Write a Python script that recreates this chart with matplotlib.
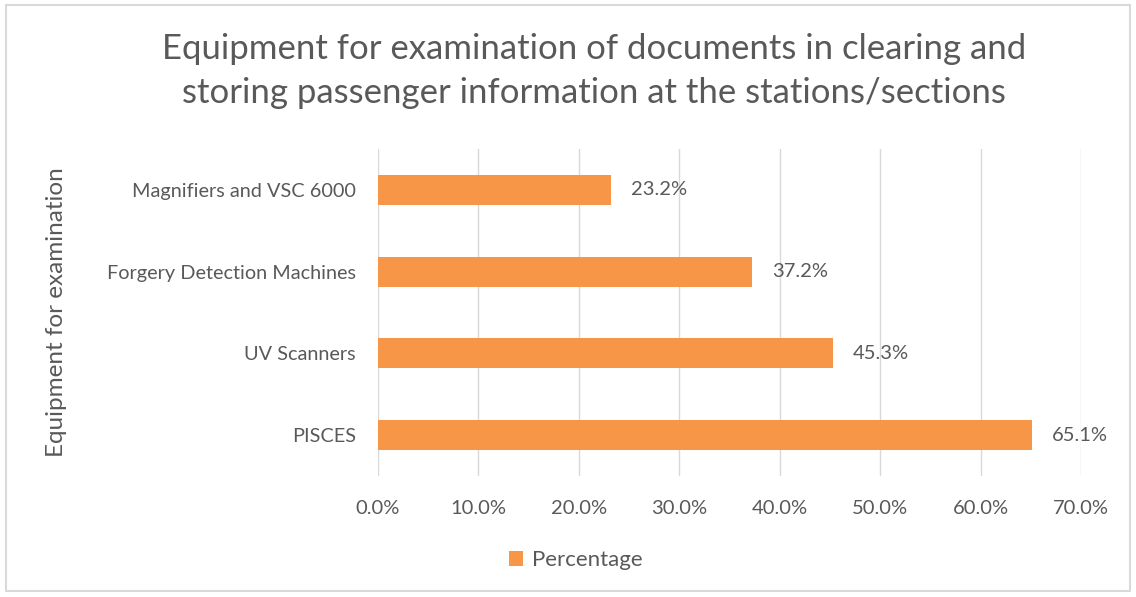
import matplotlib.pyplot as plt
from matplotlib.patches import Rectangle

categories = ['PISCES', 'UV Scanners', 'Forgery Detection Machines', 'Magnifiers and VSC 6000']
percentages = [65.1, 45.3, 37.2, 23.2]
xticks = [0, 10, 20, 30, 40, 50, 60, 70]

plt.rcParams['font.family'] = ['Lato', 'DejaVu Sans']
text_color = '#595959'
bar_color = '#F79646'

fig = plt.figure(figsize=(11.36, 5.97), dpi=100)
ax = fig.add_axes([0.3327, 0.2027, 0.6189, 0.5477])

y = range(len(categories))
ax.barh(y, percentages, height=0.37, color=bar_color, label='Percentage', zorder=3)
for yi, v in zip(y, percentages):
    ax.text(v + 2.0, yi, f'{v:.1f}%', va='center', ha='left', fontsize=14.5, color=text_color)

ax.set_xlim(0, 70)
ax.set_ylim(-0.5, len(categories) - 0.5)
ax.set_xticks(xticks)
ax.set_xticklabels([f'{t:.1f}%' for t in xticks], fontsize=14.5, color=text_color)
ax.set_yticks(list(y))
ax.set_yticklabels(categories, fontsize=14.3, color=text_color)
ax.tick_params(axis='both', length=0)
ax.tick_params(axis='y', pad=16)
ax.tick_params(axis='x', pad=17)
ax.grid(axis='x', color='#D9D9D9', linewidth=1, zorder=0)
for s in ax.spines.values():
    s.set_visible(False)

ax.set_ylabel('Equipment for examination', fontsize=17.5, color=text_color)
ax.yaxis.set_label_coords(-0.442, 0.5)

fig.text(0.523, 0.881,
         'Equipment for examination of documents in clearing and\nstoring passenger information at the stations/sections',
         fontsize=25, color=text_color, ha='center', va='center', linespacing=1.45)

leg = fig.legend(loc='center', bbox_to_anchor=(0.507, 0.062), frameon=False, fontsize=16,
                 handlelength=0.65, handleheight=0.65, handletextpad=0.4)
for t in leg.get_texts():
    t.set_color(text_color)

fig.patches.append(Rectangle((0.005, 0.01), 0.99, 0.982, transform=fig.transFigure,
                             fill=False, edgecolor='#D9D9D9', linewidth=1.5))

fig.savefig('out.png', dpi=100, facecolor='white')
